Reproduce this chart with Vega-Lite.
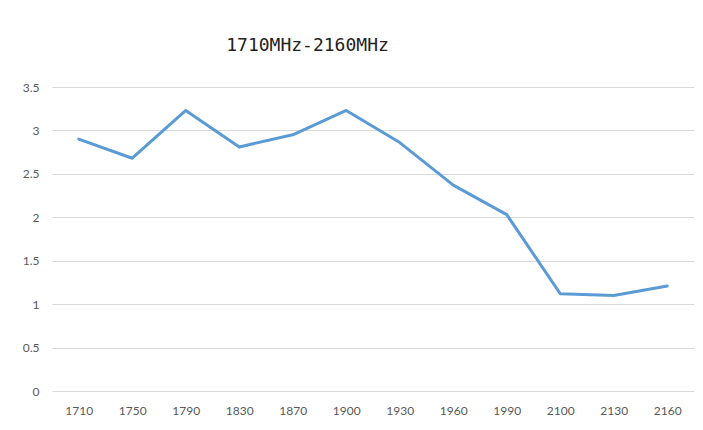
{
  "$schema": "https://vega.github.io/schema/vega-lite/v6.json",
  "autosize": {"type": "none"},
  "width": 642,
  "height": 304,
  "padding": {"left": 52, "top": 87, "right": 9, "bottom": 39},
  "background": "white",
  "title": {
    "text": "1710MHz-2160MHz",
    "anchor": "start",
    "dx": 204,
    "offset": 26,
    "font": "DejaVu Sans Mono",
    "fontSize": 18,
    "fontWeight": "normal",
    "color": "#222222"
  },
  "data": {
    "values": [
      {"freq": "1710", "value": 2.90},
      {"freq": "1750", "value": 2.68},
      {"freq": "1790", "value": 3.23},
      {"freq": "1830", "value": 2.81},
      {"freq": "1870", "value": 2.95},
      {"freq": "1900", "value": 3.23},
      {"freq": "1930", "value": 2.86},
      {"freq": "1960", "value": 2.37},
      {"freq": "1990", "value": 2.03},
      {"freq": "2100", "value": 1.12},
      {"freq": "2130", "value": 1.10},
      {"freq": "2160", "value": 1.21}
    ]
  },
  "mark": {"type": "line", "color": "#5B9BD5", "strokeWidth": 3, "strokeJoin": "round", "strokeCap": "round"},
  "encoding": {
    "x": {
      "field": "freq",
      "type": "ordinal",
      "sort": null,
      "scale": {"type": "point", "padding": 0.5},
      "axis": {
        "title": null,
        "labelAngle": 0,
        "domain": false,
        "ticks": false,
        "grid": false,
        "labelFont": "Lato",
        "labelFontSize": 12,
        "labelColor": "#595959",
        "labelPadding": 14
      }
    },
    "y": {
      "field": "value",
      "type": "quantitative",
      "scale": {"domain": [0, 3.5], "nice": false},
      "axis": {
        "title": null,
        "values": [0, 0.5, 1, 1.5, 2, 2.5, 3, 3.5],
        "format": "~g",
        "domain": false,
        "ticks": false,
        "gridColor": "#D9D9D9",
        "gridWidth": 1,
        "labelFont": "Lato",
        "labelFontSize": 12,
        "labelColor": "#595959",
        "labelPadding": 13
      }
    }
  },
  "config": {"view": {"stroke": null}}
}
